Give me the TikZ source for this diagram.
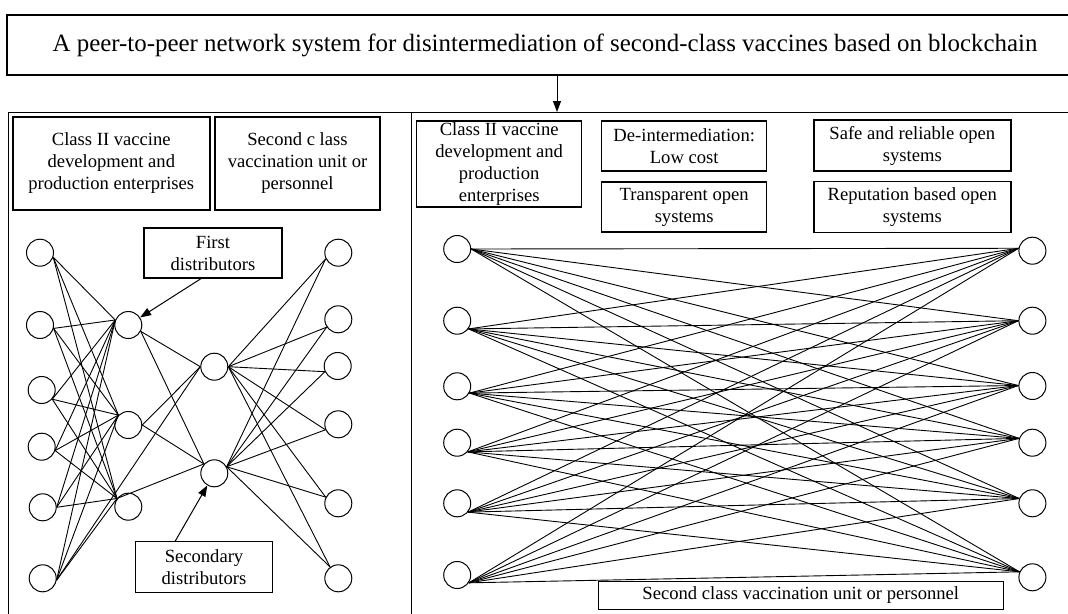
\documentclass[tikz,border=0pt]{standalone}
\usepackage{fontspec}
\setmainfont{Liberation Serif}
\usetikzlibrary{arrows.meta,calc}
\begin{document}
\begin{tikzpicture}[x=1pt,y=-1pt,
  box/.style={draw, line width=1.4pt, fill=white, align=center, inner sep=0pt,
    font=\fontsize{18.6}{22}\selectfont},
  nd/.style={circle, draw, line width=1pt, minimum size=27pt, inner sep=0pt},
  wire/.style={line width=0.9pt},
  frame/.style={line width=1pt},
  tip/.style={-{Triangle[length=11pt,width=8pt]}, line width=1pt}]
\useasboundingbox (0,0) rectangle (1068,613);
\clip (0,0) rectangle (1068,613);

% heading and the two panels below it
\node[draw, line width=1.3pt, minimum width=1076pt, minimum height=60pt, inner sep=0pt,
  font=\fontsize{24.9}{28}\selectfont] (title) at (545,45)
  {A peer-to-peer network system for disintermediation of second-class vaccines based on blockchain};
\draw[frame] (8,630) -- (8,112) -- (1090,112);
\draw[frame] (411,112) -- (411,630);
\coordinate (arrtop) at (557,75);
\coordinate (arrbot) at (557,112);
\draw[tip] (arrtop) -- (arrbot);

% left panel: chain with intermediaries
\node[box, minimum width=197pt, minimum height=93pt] (lprod) at (111.3,163.3)
  {\fontsize{18.6}{23}\selectfont Class II vaccine\\development and\\production enterprises};
\node[box, minimum width=165pt, minimum height=93pt] (lunit) at (297.5,163.3)
  {\fontsize{18.6}{23}\selectfont Second c lass\\vaccination unit or\\personnel};

\node[nd] (L1) at (40,252.7) {};
\node[nd] (L2) at (40,325) {};
\node[nd] (L3) at (41.7,390) {};
\node[nd] (L4) at (41.7,446.7) {};
\node[nd] (L5) at (42.7,507.3) {};
\node[nd] (L6) at (42.7,578.3) {};
\node[nd] (M1) at (128.3,325) {};
\node[nd] (M2) at (128.3,425) {};
\node[nd] (M3) at (128.3,506.7) {};
\node[nd] (S1) at (214.3,366.7) {};
\node[nd] (S2) at (214.3,473.3) {};
\node[nd] (R1) at (338.3,252.7) {};
\node[nd] (R2) at (338.3,319.3) {};
\node[nd] (R3) at (337.7,366) {};
\node[nd] (R4) at (338.3,424.3) {};
\node[nd] (R5) at (338.3,503.3) {};
\node[nd] (R6) at (338.3,578.3) {};

\foreach \i/\a in {1/-19,2/-14,3/-41,4/-16,5/0,6/-8}
  \foreach \j/\b in {1/159,2/135,3/144}
    \draw[wire] (L\i.\a) -- (M\j.\b);
\foreach \j/\a in {1/-27,2/0,3/144}
  \draw[wire] (M\j.\a) -- (S2.138);
\foreach \j/\a in {1/-27,2/0}
  \draw[wire] (M\j.\a) -- (S1.180);
\draw[wire] (L6.-8) -- (S1.180);
\foreach \k/\a in {1/0,2/28}
  \foreach \j/\b in {1/206,2/214,3/204,4/203,5/154,6/126}
    \draw[wire] (S\k.\a) -- (R\j.\b);

\node[box, minimum width=138pt, minimum height=50pt] (first) at (213,253)
  {First\\distributors};
\node[box, minimum width=137pt, minimum height=51pt] (second) at (204,567)
  {Secondary\\distributors};
\coordinate (firsttail) at (202,278);
\coordinate (secondtail) at (175,541.5);
\draw[tip] (firsttail) -- (M1);
\draw[tip] (secondtail) -- (S2);

% right panel: direct peer-to-peer links
\node[box, minimum width=165pt, minimum height=86pt] (rprod) at (499.2,163.8)
  {\fontsize{18.6}{21.7}\selectfont Class II vaccine\\development and\\production\\enterprises};
\node[box, minimum width=165pt, minimum height=50pt] (deint) at (684.2,146)
  {De-intermediation:\\Low cost};
\node[box, minimum width=165pt, minimum height=50pt] (transp) at (684.2,207)
  {Transparent open\\systems};
\node[box, minimum width=197pt, minimum height=51pt] (safe) at (912.3,145.5)
  {Safe and reliable open\\systems};
\node[box, minimum width=197pt, minimum height=51pt] (reput) at (912.3,207)
  {Reputation based open\\systems};

\node[nd] (P1) at (457.2,249) {};
\node[nd] (P2) at (457.2,320.7) {};
\node[nd] (P3) at (457.2,386.3) {};
\node[nd] (P4) at (457.2,442.7) {};
\node[nd] (P5) at (457.2,503.3) {};
\node[nd] (P6) at (457.2,575) {};
\node[nd] (Q1) at (1032.4,250.7) {};
\node[nd] (Q2) at (1032.4,320.7) {};
\node[nd] (Q3) at (1032.4,386) {};
\node[nd] (Q4) at (1032.4,442.7) {};
\node[nd] (Q5) at (1032.4,503.3) {};
\node[nd] (Q6) at (1032.4,577.3) {};

\foreach \i/\a in {1/0,2/-36,3/-29,4/-41,5/-39,6/-34}
  \foreach \j/\b in {1/170,2/180,3/178,4/162,5/160,6/157}
    \draw[wire] (P\i.\a) -- (Q\j.\b);

\node[box, minimum width=405pt, minimum height=27.6pt] (runit) at (800.8,595.5)
  {Second class vaccination unit or personnel};
\end{tikzpicture}
\end{document}
